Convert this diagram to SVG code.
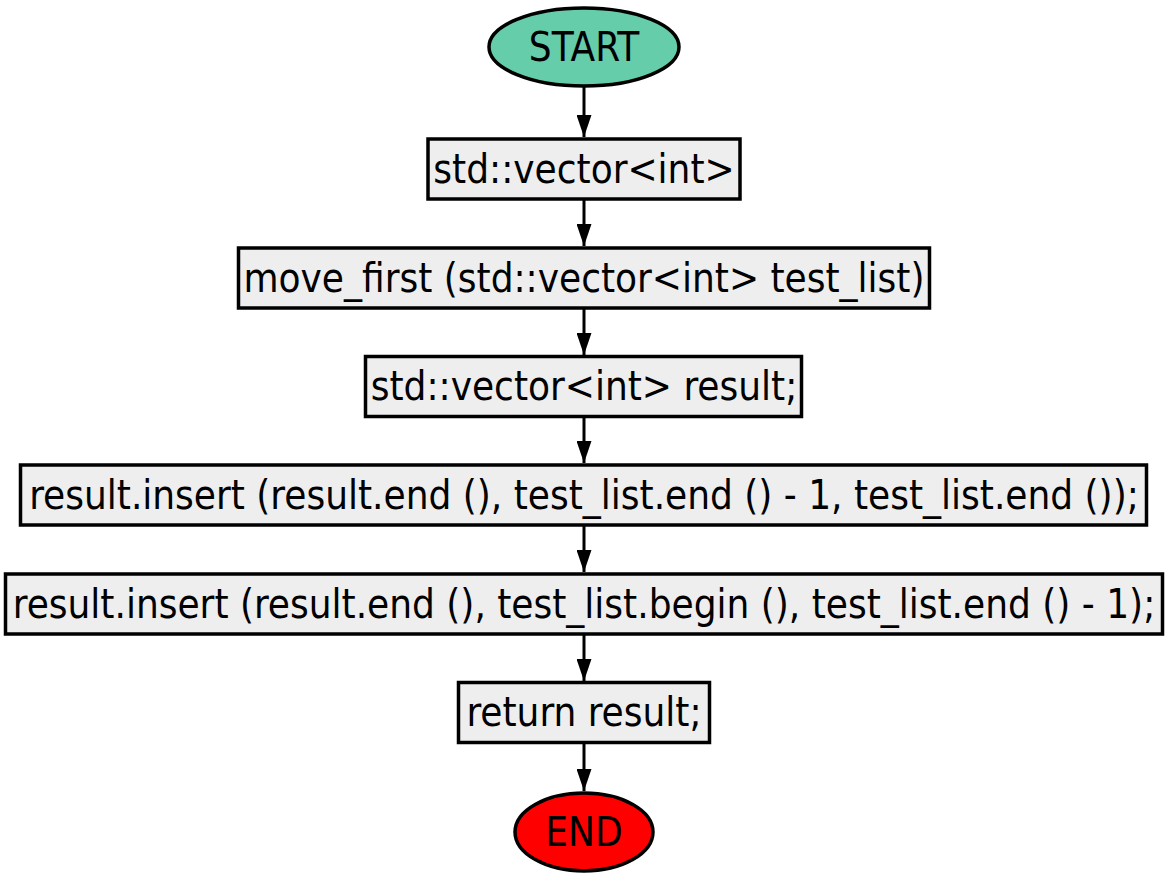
<svg xmlns="http://www.w3.org/2000/svg" width="1168" height="882" viewBox="0 0 1168 882">
<defs>
<style>
.box{fill:#eeeeee;stroke:#000;stroke-width:3.5}
.t{font-family:"DejaVu Sans Condensed","DejaVu Sans",sans-serif;font-size:40px;fill:#000;text-anchor:middle}
.e{stroke:#000;stroke-width:3;fill:none;marker-end:url(#arr)}
</style>
<marker id="arr" viewBox="0 0 22 15" refX="22" refY="7.5" markerWidth="7.3" markerHeight="5" orient="auto" markerUnits="strokeWidth">
<path d="M0,0 L22,7.5 L0,15 z" fill="#000"/>
</marker>
</defs>
<rect width="1168" height="882" fill="#fff"/>
<g id="connectors">
<line class="e" x1="584" y1="87" x2="584" y2="137"/>
<line class="e" x1="584" y1="200" x2="584" y2="246"/>
<line class="e" x1="584" y1="309" x2="584" y2="355"/>
<line class="e" x1="584" y1="417" x2="584" y2="463"/>
<line class="e" x1="584" y1="526" x2="584" y2="572"/>
<line class="e" x1="584" y1="635" x2="584" y2="681"/>
<line class="e" x1="584" y1="743" x2="584" y2="791"/>
</g>
<g id="start">
<ellipse cx="584" cy="47" rx="95" ry="39" fill="#66cdaa" stroke="#000" stroke-width="3.5"/>
<text class="t" x="584" y="61">START</text>
</g>
<g id="n1">
<rect class="box" x="428" y="139" width="312" height="60"/>
<text class="t" x="584" y="183">std::vector&lt;int&gt;</text>
</g>
<g id="n2">
<rect class="box" x="238.5" y="248" width="691" height="60"/>
<text class="t" x="584" y="292">move_first (std::vector&lt;int&gt; test_list)</text>
</g>
<g id="n3">
<rect class="box" x="365.5" y="356.5" width="436" height="60"/>
<text class="t" x="584" y="400">std::vector&lt;int&gt; result;</text>
</g>
<g id="n4">
<rect class="box" x="20.5" y="465" width="1126" height="60"/>
<text class="t" x="584" y="509">result.insert (result.end (), test_list.end () - 1, test_list.end ());</text>
</g>
<g id="n5">
<rect class="box" x="5.5" y="574" width="1157" height="60"/>
<text class="t" x="584" y="618">result.insert (result.end (), test_list.begin (), test_list.end () - 1);</text>
</g>
<g id="n6">
<rect class="box" x="458.5" y="682.5" width="251" height="60"/>
<text class="t" x="584" y="726">return result;</text>
</g>
<g id="end">
<ellipse cx="584" cy="832" rx="69" ry="39" fill="#ff0000" stroke="#000" stroke-width="3.5"/>
<text class="t" x="584" y="846">END</text>
</g>
</svg>
